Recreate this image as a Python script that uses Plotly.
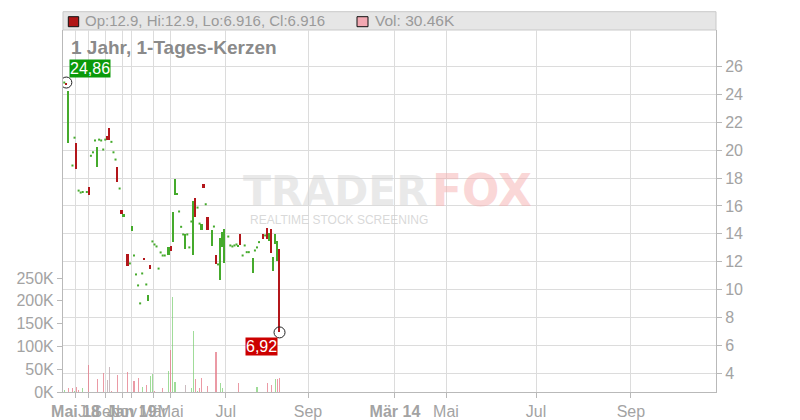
import plotly.graph_objects as go

# ---- data ----
day = [0, 1, 2, 4, 5, 6, 7, 8, 9, 11, 12, 13, 14, 15, 16, 17, 18, 19, 20, 21, 22, 23, 24, 25, 26, 27, 28, 29,
       31, 32, 33, 34, 35, 36, 37, 38, 39, 40, 41, 42, 43, 44, 45, 46, 47, 48, 49, 51, 52, 53, 54, 55, 56, 57,
       58, 59, 60, 61, 62, 63, 64, 65, 66, 67, 68, 69, 70, 72, 73, 74, 75, 76, 77, 78, 80, 81, 82, 83, 84, 85,
       86, 87, 88, 89, 90, 92, 93, 94, 95, 97, 98, 99, 100, 101, 102, 103, 104, 105]

opens = [24.86, 24.86, 20.52, 18.9, 20.9, 20.52, 17.1, 16.96, 17.0, 17.0, 17.34, 19.6, 19.85, 20.7, 18.8, 20.76,
         20.7, 20.05, 20.76, 21.0, 21.58, 20.6, 19.85, 19.33, 18.78, 17.25, 15.7, 15.2,
         12.54, 11.87, 14.19, 12.44, 11.08, 10.29, 9.0, 11.15, 12.29, 10.36, 9.19, 11.73, 13.45, 13.23, 13.09,
         11.5, 12.66, 12.44, 12.44, 12.49, 13.09, 13.42, 16.82, 16.82, 15.6, 14.5,
         13.95, 12.92, 13.95, 13.02, 14.88, 12.49, 16.6, 15.88, 14.73, 14.26, 17.6, 16.12, 15.19, 13.14, 14.52,
         12.47, 11.8, 10.69, 13.04, 11.91, 13.8, 13.16, 13.09, 13.16, 13.23, 13.1,
         13.95, 12.44, 13.16, 12.68, 12.68, 11.17, 12.8, 13.02, 13.4, 13.95, 13.88, 14.38, 13.49, 14.31, 11.34,
         13.25, 12.08, 12.9]

closes = [24.86, 24.67, 24.23, 18.9, 20.9, 18.66, 17.1, 16.96, 17.0, 17.0, 16.77, 19.6, 19.85, 20.7, 20.26, 20.76,
          20.7, 20.05, 20.76, 20.76, 20.76, 20.6, 19.85, 19.33, 17.72, 17.25, 15.4, 15.45,
          11.7, 11.87, 14.55, 12.44, 11.08, 10.29, 9.0, 11.15, 12.1, 10.36, 9.57, 11.48, 13.45, 13.23, 13.09,
          11.5, 12.66, 12.44, 12.44, 13.02, 12.77, 15.53, 17.92, 16.96, 15.6, 14.5,
          13.95, 13.95, 13.95, 13.02, 14.88, 16.32, 15.21, 15.88, 14.73, 14.67, 17.32, 16.12, 14.26, 14.24, 14.52,
          11.82, 11.8, 13.68, 14.11, 14.33, 13.8, 13.16, 13.09, 13.16, 13.23, 13.2,
          13.16, 12.44, 13.16, 12.68, 12.68, 12.25, 12.8, 13.02, 13.4, 13.61, 13.88, 13.59, 14.04, 12.63, 12.32,
          13.97, 13.47, 6.916]

volume_k = [4, 1, 9, 9, 2, 12, 4, 1, 9, 0, 59, 0, 0, 0, 28, 0, 0, 42, 0, 26, 55, 2, 0, 1, 37, 0, 1, 0,
            44, 1, 0, 25, 0, 31, 1, 11, 1, 15, 1, 35, 39, 2, 0, 0, 0.5, 9, 1, 46, 92, 209, 22, 1, 0.5, 0,
            0, 16, 0, 0, 9, 134, 29, 2, 8, 30, 1, 0, 13, 1, 0.5, 88, 0.5, 20, 8, 1, 0, 0, 0, 0, 0, 19,
            1, 0, 0, 0, 0, 0, 0, 11, 0, 1, 0, 19, 0, 15, 0, 29, 29, 30.46]

x_tick_pos = [5.5, 11.7, 20.1, 28.5, 32.9, 43.4, 51.9, 78.8, 118.9, 161.3, 186.2, 230.1, 276.4]
x_tick_text = ["<b>Mai 18</b>", "Jul", "Sep", "Nov", "<b>Jan 19</b>", "Mär", "Mai", "Jul", "Sep",
               "<b>Mär 14</b>", "Mai", "Jul", "Sep"]
price_ticks = [4, 6, 8, 10, 12, 14, 16, 18, 20, 22, 24, 26]
vol_ticks = [0, 50000, 100000, 150000, 200000, 250000]
vol_tick_text = ["0K", "50K", "100K", "150K", "200K", "250K"]
title_text = "1 Jahr, 1-Tages-Kerzen"

# ---- derived ----
GREEN = "#45aa2c"
RED = "#b3161b"
GRID = "#dcdcdc"
AXIS = "#b9b9b9"
TICKC = "#a3a3a3"
FONT = "Liberation Sans, Arial, sans-serif"

highs = [max(o, c) for o, c in zip(opens, closes)]
lows = [min(o, c) for o, c in zip(opens, closes)]

body_x, body_base, body_h, body_col = [], [], [], []
doji_x, doji_y = [], []
for d, o, c in zip(day, opens, closes):
    if o == c:
        doji_x.append(d)
        doji_y.append(c)
    else:
        body_x.append(d)
        body_base.append(min(o, c))
        body_h.append(abs(c - o))
        body_col.append(GREEN if c > o else RED)

vol_col = []
prev = None
for c in closes:
    if prev is None or c > prev:
        vol_col.append("rgba(120,205,110,0.7)")
    elif c < prev:
        vol_col.append("rgba(228,120,135,0.75)")
    else:
        vol_col.append("rgba(190,170,175,0.8)")
    prev = c
volumes = [v * 1000 for v in volume_k]

fig = go.Figure()

fig.add_trace(go.Bar(x=day, y=volumes, yaxis="y2", width=0.55,
                     marker=dict(color=vol_col, line=dict(width=0)), hoverinfo="skip"))
fig.add_trace(go.Bar(x=body_x, y=body_h, base=body_base, yaxis="y", width=0.85,
                     marker=dict(color=body_col, line=dict(width=0)), hoverinfo="skip"))
fig.add_trace(go.Scatter(x=doji_x, y=doji_y, mode="markers", yaxis="y",
                         marker=dict(symbol="square", size=2.0, color=GREEN, line=dict(width=0)),
                         hoverinfo="skip"))

# extreme markers (first session high and last close)
i_max = 1
fig.add_trace(go.Scatter(x=[day[i_max], day[-1]], y=[highs[i_max], closes[-1]], mode="markers",
                         marker=dict(symbol="circle-open", size=11, color="#222", line=dict(width=1)),
                         hoverinfo="skip", yaxis="y"))

fig.update_layout(
    width=800, height=420,
    margin=dict(l=63, r=84, t=30, b=28, autoexpand=False),
    paper_bgcolor="white", plot_bgcolor="white",
    barmode="overlay", bargap=0,
    showlegend=False, hovermode=False,
    font=dict(family=FONT, color=TICKC, size=16),
    xaxis=dict(range=[-0.62, 317.9], tickmode="array", tickvals=x_tick_pos, ticktext=x_tick_text,
               tickangle=0, automargin=False,
               showgrid=True, gridcolor=GRID, gridwidth=1, zeroline=False,
               showline=True, linecolor=AXIS, linewidth=1,
               ticks="outside", ticklen=5, tickcolor=AXIS,
               tickfont=dict(size=16, color=TICKC, family=FONT)),
    yaxis=dict(side="right", range=[2.637, 28.633], tickmode="array", tickvals=price_ticks,
               automargin=False,
               showgrid=True, gridcolor=GRID, gridwidth=1, zeroline=False,
               showline=True, linecolor=AXIS, linewidth=1,
               ticks="outside", ticklen=5, tickcolor=AXIS,
               tickfont=dict(size=16, color=TICKC, family=FONT)),
    yaxis2=dict(side="left", overlaying="y", range=[0, 793900], tickmode="array",
                tickvals=vol_ticks, ticktext=vol_tick_text, automargin=False,
                showgrid=False, zeroline=False, showline=True, linecolor=AXIS, linewidth=1,
                ticks="outside", ticklen=5, tickcolor=AXIS,
                tickfont=dict(size=16, color=TICKC, family=FONT)),
)

# header band
band_top = 1 + 18.3 / 362
fig.add_shape(type="rect", xref="paper", yref="paper", x0=0, x1=1, y0=1, y1=band_top,
              fillcolor="#e6e6e6", line=dict(color="#c9c9c9", width=1), layer="below")
fig.add_shape(type="rect", xref="paper", yref="paper", x0=5.3 / 653, x1=15.7 / 653,
              y0=1 + 3.3 / 362, y1=1 + 13.3 / 362, fillcolor="#b01515", line=dict(color="#111", width=1))
fig.add_shape(type="rect", xref="paper", yref="paper", x0=294 / 653, x1=305 / 653,
              y0=1 + 3.3 / 362, y1=1 + 13.3 / 362, fillcolor="#f2a8b2", line=dict(color="#111", width=1))

ohlc_text = "Op:{:g}, Hi:{:g}, Lo:{:g}, Cl:{:g}".format(opens[-1], highs[-1], lows[-1], closes[-1])
fig.add_annotation(xref="paper", yref="paper", x=20 / 653, y=1 + 9 / 362, xanchor="left", yanchor="middle",
                   text=ohlc_text, showarrow=False, font=dict(size=15, color="#9a9a9a", family=FONT))
fig.add_annotation(xref="paper", yref="paper", x=310 / 653, y=1 + 9 / 362, xanchor="left", yanchor="middle",
                   text="Vol: {:g}K".format(volume_k[-1]), showarrow=False,
                   font=dict(size=15.5, color="#9a9a9a", family=FONT))

# title
fig.add_annotation(xref="paper", yref="paper", x=6 / 653, y=1 - 17 / 362, xanchor="left", yanchor="middle",
                   text="<b>" + title_text + "</b>", showarrow=False,
                   font=dict(size=19, color="#8a8a8a", family=FONT))

# watermark
fig.add_annotation(xref="paper", yref="paper", x=367 / 653, y=1 - 161 / 362, xanchor="right", yanchor="middle",
                   text="<b>TRADER</b>", showarrow=False,
                   font=dict(size=41, color="rgba(215,215,215,0.55)", family="DejaVu Sans, sans-serif"))
fig.add_annotation(xref="paper", yref="paper", x=367 / 653, y=1 - 161 / 362, xanchor="left", yanchor="middle",
                   text="<b>FOX</b>", showarrow=False,
                   font=dict(size=44, color="rgba(245,175,175,0.5)", family="DejaVu Sans, sans-serif"))
fig.add_annotation(xref="paper", yref="paper", x=276 / 653, y=1 - 190 / 362, xanchor="center", yanchor="middle",
                   text="REALTIME STOCK SCREENING", showarrow=False,
                   font=dict(size=12, color="rgba(200,200,200,0.7)", family=FONT))

# price labels
fig.add_annotation(x=day[i_max], y=highs[i_max], xref="x", yref="y", xanchor="left", yanchor="bottom",
                   xshift=3, yshift=5, showarrow=False, bgcolor="#0a9a0a", borderpad=0,
                   text="{:.2f}".format(highs[i_max]).replace(".", ","),
                   font=dict(size=16, color="white", family=FONT))
fig.add_annotation(x=day[-1], y=closes[-1], xref="x", yref="y", xanchor="right", yanchor="top",
                   xshift=-2, yshift=-5, showarrow=False, bgcolor="#cc0000", borderpad=0,
                   text="{:.2f}".format(closes[-1]).replace(".", ","),
                   font=dict(size=16, color="white", family=FONT))

fig.write_html("out.html", config={"displayModeBar": False},
               post_script="document.body.style.margin='0';document.body.style.overflow='hidden';")
